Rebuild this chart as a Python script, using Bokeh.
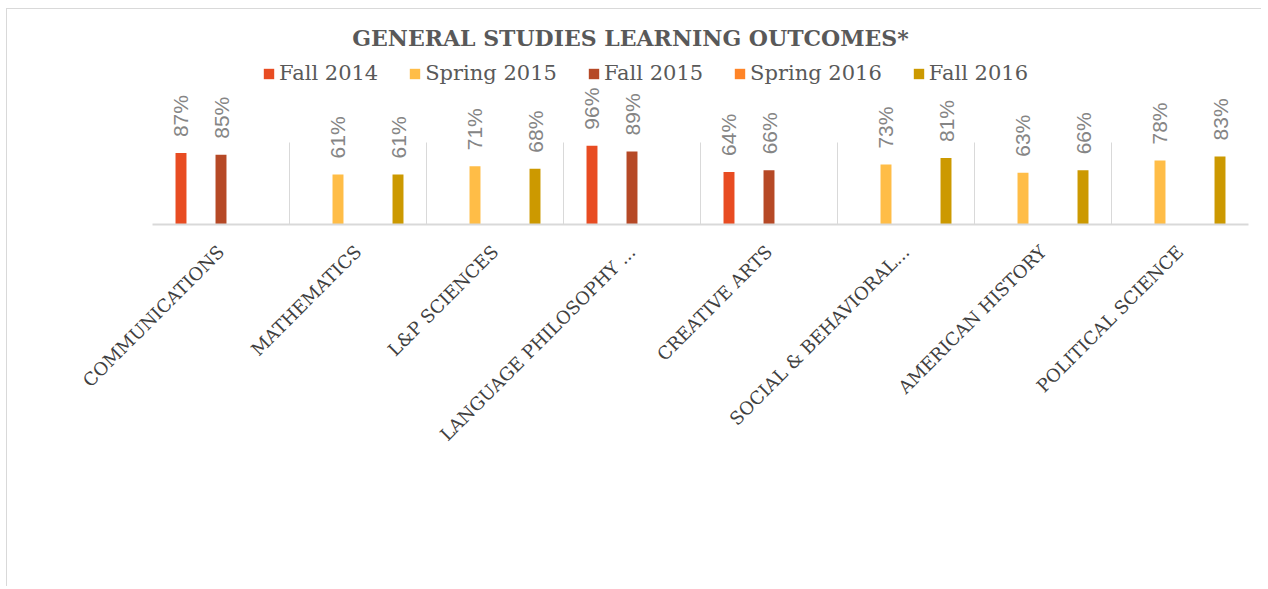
from math import pi, nan
from bokeh.plotting import figure
from bokeh.models import (ColumnDataSource, Range1d, FactorRange, FixedTicker, Legend,
                          LegendItem, Label)
from bokeh.transform import dodge
from bokeh.core.properties import value
from bokeh.embed import file_html
from bokeh.resources import INLINE

# ---- data ----
categories = ["COMMUNICATIONS", "MATHEMATICS", "L&P SCIENCES", "LANGUAGE PHILOSOPHY ...",
              "CREATIVE ARTS", "SOCIAL & BEHAVIORAL...", "AMERICAN HISTORY", "POLITICAL SCIENCE"]
series_names = ["Fall 2014", "Spring 2015", "Fall 2015", "Spring 2016", "Fall 2016"]
fall_2014 = [87, None, None, 96, 64, None, None, None]
spring_2015 = [None, 61, 71, None, None, 73, 63, 78]
fall_2015 = [85, None, None, 89, 66, None, None, None]
spring_2016 = [None, None, None, None, None, None, None, None]
fall_2016 = [None, 61, 68, None, None, 81, 66, 83]
series_values = [fall_2014, spring_2015, fall_2015, spring_2016, fall_2016]
colors = ["#E84C22", "#FFBD47", "#B64926", "#FF8427", "#CC9900"]

TITLE = "GENERAL STUDIES LEARNING OUTCOMES*"
SERIF = "DejaVu Serif"
SANS = "Liberation Sans"

p = figure(width=1255, height=578, output_backend="svg", toolbar_location=None,
           x_range=FactorRange(*categories, range_padding=0), y_range=Range1d(0, 262),
           min_border_left=145, min_border_right=14, min_border_top=0, min_border_bottom=363,
           outline_line_color=None, background_fill_color="white", border_fill_color="white",
           styles={"margin-top": "8px", "margin-left": "6px",
                   "border-top": "1px solid #d9d9d9", "border-left": "1px solid #d9d9d9"})

slot = 0.146
bar_w = 0.08
items = []
for i, (name, vals, col) in enumerate(zip(series_names, series_values, colors)):
    tops = [nan if v is None else v for v in vals]
    labs = ["" if v is None else f"{v}%" for v in vals]
    src = ColumnDataSource(dict(x=categories, top=tops, lab=labs))
    off = (i - 2) * slot
    r = p.vbar(x=dodge("x", off, range=p.x_range), top="top", width=bar_w, source=src,
               fill_color=col, line_color=None)
    p.text(x=dodge("x", off, range=p.x_range), y="top", text="lab", source=src,
           angle=pi / 2, text_align="left", text_baseline="middle", y_offset=-16,
           text_font=value(SANS), text_font_size="21px", text_color="#858585")
    items.append(LegendItem(label=name, renderers=[r]))

# axes and grid
p.yaxis.visible = False
p.ygrid.visible = False
p.xgrid.ticker = FixedTicker(ticks=list(range(len(categories) + 1)))
p.xgrid.cross_bounds = (0, 100)
p.xgrid.grid_line_color = "#d9d9d9"
p.xgrid.grid_line_width = 1
xa = p.xaxis[0]
xa.axis_line_color = "#d9d9d9"
xa.axis_line_width = 2
xa.major_tick_line_color = None
xa.minor_tick_line_color = None
xa.major_label_orientation = pi / 4
xa.major_label_text_font = SERIF
xa.major_label_text_font_size = "18px"
xa.major_label_text_color = "#404040"
xa.major_label_standoff = 18

legend = Legend(items=items, orientation="horizontal", location=(110, 139),
                glyph_width=13, glyph_height=13, label_standoff=4, spacing=30,
                padding=0, margin=0, border_line_color=None, background_fill_alpha=0,
                label_text_font=SERIF, label_text_font_size="21px", label_text_color="#595959")
p.add_layout(legend, "center")

title = Label(x=478, y=187, x_units="screen", y_units="screen", text=TITLE,
              text_align="center", text_baseline="middle", text_font=SERIF,
              text_font_style="bold", text_font_size="22px", text_color="#595959")
p.add_layout(title)

open("out.html", "w").write(file_html(p, INLINE))
